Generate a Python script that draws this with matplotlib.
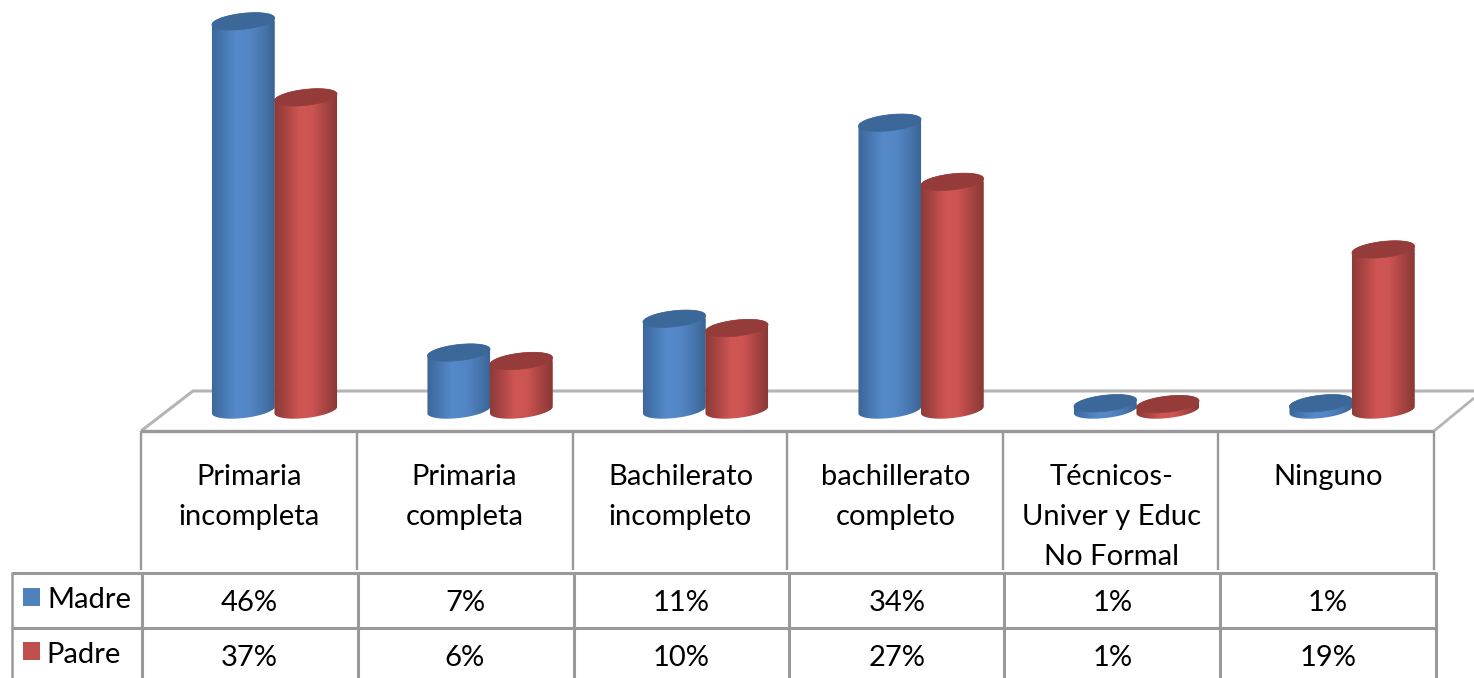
import numpy as np
import matplotlib
matplotlib.use("Agg")
import matplotlib.pyplot as plt
from matplotlib.path import Path
from matplotlib.patches import PathPatch, Rectangle
from matplotlib.colors import LinearSegmentedColormap

categories = ["Primaria\nincompleta", "Primaria\ncompleta", "Bachilerato\nincompleto",
              "bachillerato\ncompleto", "Técnicos-\nUniver y Educ\nNo Formal", "Ninguno"]
madre = [46, 6.8, 10.8, 34, 0.8, 0.8]
padre = [37, 5.8, 9.7, 27, 0.7, 19]
series_names = ["Madre", "Padre"]
series_colors = ["#4f81bd", "#c0504d"]

W, H = 1474, 678
plt.rcParams["font.family"] = ["Lato", "DejaVu Sans"]
fig = plt.figure(figsize=(W / 100, H / 100), dpi=100)

# pixel axes for table frame
pix = fig.add_axes([0, 0, 1, 1], zorder=0)
pix.set_xlim(0, W); pix.set_ylim(H, 0); pix.axis("off")

# data axes
PX_X, X0, PX_Y, Y0 = 215.5, 274.5, 8.45, 410.0
ax = fig.add_axes([0, 0, 1, 1], zorder=1)
ax.patch.set_alpha(0)
xlim = ((0 - X0) / PX_X, (W - X0) / PX_X)
ylim = ((Y0 - H) / PX_Y, Y0 / PX_Y)
ax.axis("off")

GRID = "#999999"
def line(xs, ys, lw=2.0, c=GRID):
    pix.plot(xs, ys, color=c, lw=lw, solid_capstyle="butt", clip_on=True)

# floor
line([141, 193, W], [431, 391, 391], lw=2.2, c="#b4b4b4")
line([141, 1434], [431, 431], lw=2.4)
line([1434, 1474], [431, 398], lw=2.0, c="#b4b4b4")
# category cells
for x in [141.5, 357, 573, 787.5, 1003, 1218, 1434]:
    line([x, x], [431, 570], lw=1.7)
# value table
for y in [572.5, 628]:
    line([12, 1436], [y, y], lw=2.2)
line([12.5, 12.5], [572, H], lw=1.8)
for x in [142, 358, 574, 789, 1004, 1220, 1436]:
    line([x, x], [572, H], lw=2.2)

BW, A, B, TILT = 62.5, 31.5, 8.0, np.deg2rad(6.5)

def ellipse_xy(xc, v, t):
    ex = A * np.cos(t) * np.cos(TILT) - B * np.sin(t) * np.sin(TILT)
    ey = A * np.cos(t) * np.sin(TILT) + B * np.sin(t) * np.cos(TILT)
    return xc + ex / PX_X, v + ey / PX_Y

cmaps = [
    LinearSegmentedColormap.from_list("b", ["#3c6698", "#4879b4", "#568aca", "#5486c6", "#4878b0", "#3a6392"]),
    LinearSegmentedColormap.from_list("r", ["#8c3a38", "#ab4644", "#cf5654", "#cc5452", "#a94543", "#883836"]),
]
tops = ["#3c6899", "#953c3a"]
grad = np.linspace(0, 1, 128).reshape(1, -1)
LOWER = np.linspace(np.pi, 2 * np.pi, 37)
UPPER = np.linspace(0, np.pi, 37)
FULL = np.linspace(0, 2 * np.pi, 73)
z = 3
for k, (vals, off) in enumerate(zip((madre, padre), (-0.5, 0.5))):
    xs = np.arange(len(vals)) + off * BW / PX_X
    bars = ax.bar(xs, vals, width=BW / PX_X, color=series_colors[k], linewidth=0, zorder=z)
    for xc, v, b in zip(xs, vals, bars):
        h = BW / PX_X / 2
        bx, by = ellipse_xy(xc, 0, LOWER)
        tx, ty = ellipse_xy(xc, v, UPPER)
        verts = np.column_stack([np.r_[bx, tx, bx[0]], np.r_[by, ty, by[0]]])
        codes = [Path.MOVETO] + [Path.LINETO] * (len(verts) - 2) + [Path.CLOSEPOLY]
        path = Path(verts, codes)
        b.set_clip_path(PathPatch(path, transform=ax.transData))
        im = ax.imshow(grad, cmap=cmaps[k], extent=(xc - h * 1.02, xc + h * 1.02, -2, v + 2),
                       aspect="auto", zorder=z + 0.1, interpolation="bilinear")
        im.set_clip_path(PathPatch(path, transform=ax.transData))
        cx, cy = ellipse_xy(xc, v, FULL)
        ax.fill(cx, cy, color=tops[k], lw=0.5, zorder=z + 0.2)
    z += 1
ax.set_xlim(*xlim); ax.set_ylim(*ylim)

# category labels
TXT = "#000000"
FS = 21
centers = [249, 464.5, 680.5, 896, 1112, 1328]
for c, lab in zip(centers, categories):
    for i, part in enumerate(lab.split("\n")):
        pix.text(c, 477 + 40 * i, part, ha="center", va="center", fontsize=FS, color=TXT)

# value rows
vcenters = [249, 465, 681, 897, 1113, 1328]
for vals, y in zip((madre, padre), (603, 658)):
    for c, v in zip(vcenters, vals):
        pix.text(c, y, f"{round(v)}%", ha="center", va="center", fontsize=FS, color=TXT)

# legend keys
for name, col, ky, ty, tx in zip(series_names, series_colors, (588, 642), (600, 655), (47, 46)):
    pix.add_patch(Rectangle((23, ky), 17, 18, facecolor=col, edgecolor="none"))
    pix.text(tx, ty, name, ha="left", va="center", fontsize=FS, color=TXT)

fig.savefig("out.png", dpi=100)
